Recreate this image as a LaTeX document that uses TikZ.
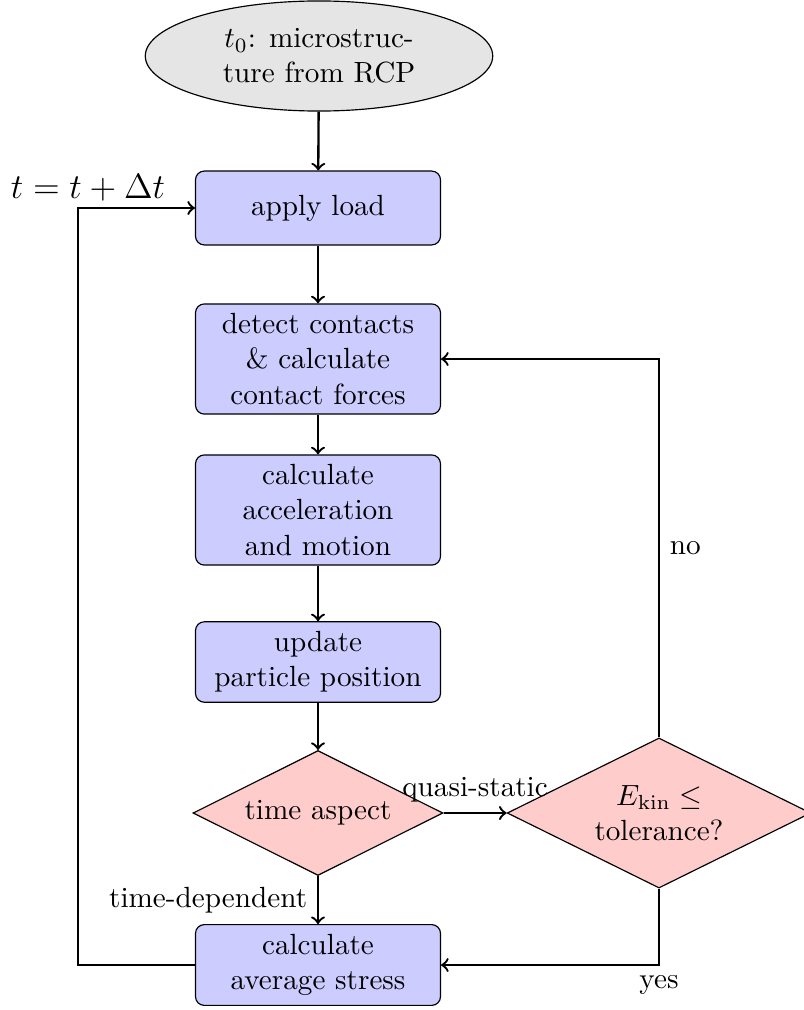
\documentclass[tikz,border=0pt]{standalone}
\usetikzlibrary{shapes.geometric}
\begin{document}
\begin{tikzpicture}[x=0.3425pt, y=-0.3425pt,
  block/.style={rectangle, draw, fill=blue!20, rounded corners=3pt,
    minimum width=83.9pt, text width=77pt, align=center, minimum height=25.3pt},
  decision/.style={diamond, draw, fill=red!20, aspect=2, inner sep=0pt, align=center},
  startnode/.style={ellipse, draw, fill=gray!20, minimum width=119pt,
    minimum height=37.7pt, align=center},
  flow/.style={->, thick}]
\useasboundingbox (0,0) rectangle (803,1010);

% process nodes
\node[startnode] (start) at (319,56) {$t_0$: microstruc-\\ture from RCP};
\node[block] (load) at (318,208) {apply load};
\node[block] (detect) at (318,359) {detect contacts\\\& calculate\\contact forces};
\node[block] (accel) at (318,510) {calculate\\acceleration\\and motion};
\node[block] (update) at (318,662) {update\\particle position};
\node[decision, minimum width=85.6pt, minimum height=42.8pt] (aspect) at (318,813) {time aspect};
\node[decision, minimum width=104pt, minimum height=51.4pt] (check) at (659,813) {$E_{\mathrm{kin}}\leq$\\tolerance?};
\node[block] (stress) at (318,965) {calculate\\average stress};

% time-step loop
\coordinate (loopx) at (78,965);
\node[font=\large] (inc) at (88,188) {$t=t+\Delta t$};

% connectors
\draw[flow] (start) -- (load);
\draw[flow] (load) -- (detect);
\draw[flow] (detect) -- (accel);
\draw[flow] (accel) -- (update);
\draw[flow] (update) -- (aspect);
\draw[flow] (aspect) -- node[above] {quasi-static} (check);
\draw[flow] (aspect) -- node[left] {time-dependent} (stress);
\draw[flow] (check.north) |- node[pos=0.25, right] {no} (detect.east);
\draw[flow] (check.south) |- node[pos=0.5, below] {yes} (stress.east);
\draw[flow] (stress.west) -- (loopx) |- (load.west);
\end{tikzpicture}
\end{document}
